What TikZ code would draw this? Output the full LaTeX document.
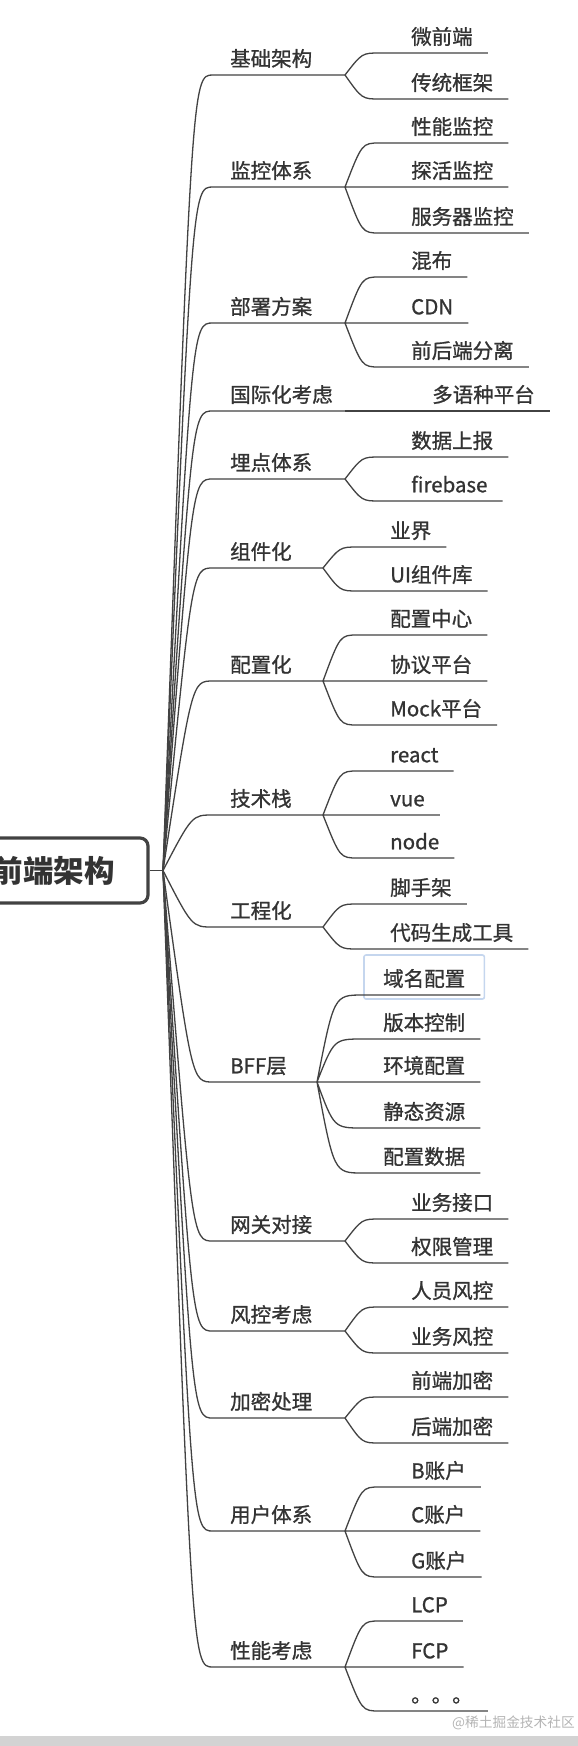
\documentclass[tikz,border=0pt]{standalone}
\usepackage{fontspec}
\setmainfont{Noto Sans CJK SC}
\newfontfamily\testofont{Noto Sans CJK SC}[FakeBold=1]
\usepackage{xcolor}
\usepackage{tikz}
\usetikzlibrary{calc}

\definecolor{linea}{HTML}{424242}
\definecolor{testo}{HTML}{333333}
\definecolor{evid}{HTML}{C5D6EE}
\definecolor{fondo}{HTML}{D3D3D3}
\definecolor{firma}{HTML}{B4B4B4}

\begin{document}
\begin{tikzpicture}[x=1pt, y=-1pt,
    voce/.style={anchor=south west, inner sep=0pt, text depth=8.5pt, text=testo, font=\testofont\fontsize{20.5}{24}\selectfont},
    radice/.style={draw=linea, line width=3.2pt, rounded corners=8pt, minimum width=188pt, minimum height=65pt, inner sep=0pt, text=testo, font=\fontsize{30.5}{32}\selectfont\bfseries},
    tratto/.style={draw=linea, line width=1.3pt},
    ramo/.style={to path={.. controls ($(\tikztotarget -| \tikztostart)+(29,0)$) .. ($(\tikztotarget -| \tikztostart)+(50,0)$) -- (\tikztotarget)}},
    foglia/.style={to path={.. controls ($(\tikztotarget.south west -| \tikztostart)+(17,0)$) .. ($(\tikztotarget.south west)+(-#1,0)$) -- ($(\tikztotarget.south east)+(15,0)$)}},
    foglia/.default=31,
    riquadro/.style={draw=evid, line width=1.6pt, rounded corners=2pt},
  ]
  \useasboundingbox (0,0) rectangle (578,1746);
  \fill[fondo] (0,1736) rectangle (578,1746);

  % Radice
  \node[radice] (radice) at (54,870.5) {前端架构};
  \coordinate (hub) at (163,870.5);
  \draw[tratto] (radice.east) -- (hub);

  % Rami
  \coordinate (j1) at (345,75);
  \coordinate (j2) at (345,187);
  \coordinate (j3) at (345,323);
  \coordinate (j4) at (345,411);
  \coordinate (j5) at (345,479);
  \coordinate (j6) at (323,568);
  \coordinate (j7) at (323,681);
  \coordinate (j8) at (323,815);
  \coordinate (j9) at (323,927);
  \coordinate (j10) at (317,1082);
  \coordinate (j11) at (345,1241);
  \coordinate (j12) at (345,1331);
  \coordinate (j13) at (345,1418);
  \coordinate (j14) at (345,1531);
  \coordinate (j15) at (345,1667);
  \foreach \i in {1,...,15}
    \draw[tratto] (hub) to[ramo] (j\i);

  \node[voce] (r1) at (230,75) {基础架构};
  \node[voce] (r2) at (230,187) {监控体系};
  \node[voce] (r3) at (230,323) {部署方案};
  \node[voce] (r4) at (230,411) {国际化考虑};
  \node[voce] (r5) at (230,479) {埋点体系};
  \node[voce] (r6) at (230,568) {组件化};
  \node[voce] (r7) at (230,681) {配置化};
  \node[voce] (r8) at (230,815) {技术栈};
  \node[voce] (r9) at (230,927) {工程化};
  \node[voce] (r10) at (230,1082) {BFF层};
  \node[voce] (r11) at (230,1241) {网关对接};
  \node[voce] (r12) at (230,1331) {风控考虑};
  \node[voce] (r13) at (230,1418) {加密处理};
  \node[voce] (r14) at (230,1531) {用户体系};
  \node[voce] (r15) at (230,1667) {性能考虑};

  % Foglie
  \node[voce] (f1a) at (411,53) {微前端};
  \node[voce] (f1b) at (411,99) {传统框架};
  \draw[tratto] (j1) to[foglia] (f1a) (j1) to[foglia] (f1b);

  \node[voce] (f2a) at (411,143) {性能监控};
  \node[voce] (f2b) at (411,187) {探活监控};
  \node[voce] (f2c) at (411,233) {服务器监控};
  \draw[tratto] (j2) to[foglia] (f2a) (j2) to[foglia] (f2b) (j2) to[foglia] (f2c);

  \node[voce] (f3a) at (411,277) {混布};
  \node[voce] (f3b) at (411,323) {CDN};
  \node[voce] (f3c) at (411,367) {前后端分离};
  \draw[tratto] (j3) to[foglia] (f3a) (j3) to[foglia] (f3b) (j3) to[foglia] (f3c);

  \node[voce] (f4a) at (432,411) {多语种平台};
  \draw[tratto] (j4) -- ($(f4a.south east)+(15,0)$);

  \node[voce] (f5a) at (411,457) {数据上报};
  \node[voce] (f5b) at (411,501) {firebase};
  \draw[tratto] (j5) to[foglia] (f5a) (j5) to[foglia] (f5b);

  \node[voce] (f6a) at (390,547) {业界};
  \node[voce] (f6b) at (390,591) {UI组件库};
  \draw[tratto] (j6) to[foglia=32] (f6a) (j6) to[foglia=32] (f6b);

  \node[voce] (f7a) at (390,635) {配置中心};
  \node[voce] (f7b) at (390,681) {协议平台};
  \node[voce] (f7c) at (390,725) {Mock平台};
  \draw[tratto] (j7) to[foglia=32] (f7a) (j7) to[foglia=32] (f7b) (j7) to[foglia=32] (f7c);

  \node[voce] (f8a) at (390,771) {react};
  \node[voce] (f8b) at (390,815) {vue};
  \node[voce] (f8c) at (390,858) {node};
  \draw[tratto] (j8) to[foglia=32] (f8a) (j8) to[foglia=32] (f8b) (j8) to[foglia=32] (f8c);

  \node[voce] (f9a) at (390,904) {脚手架};
  \node[voce] (f9b) at (390,949) {代码生成工具};
  \draw[tratto] (j9) to[foglia=32] (f9a) (j9) to[foglia=32] (f9b);

  \node[voce] (f10a) at (383,995) {域名配置};
  \node[voce] (f10b) at (383,1039) {版本控制};
  \node[voce] (f10c) at (383,1082) {环境配置};
  \node[voce] (f10d) at (383,1128) {静态资源};
  \node[voce] (f10e) at (383,1173) {配置数据};
  \draw[riquadro] ($(f10a.south west)+(-19,4)$) rectangle ($(f10a.south east)+(19,-40)$);
  \draw[tratto] (j10) to[foglia=20] (f10a) (j10) to[foglia=20] (f10b) (j10) to[foglia=20] (f10c)
    (j10) to[foglia=20] (f10d) (j10) to[foglia=20] (f10e);

  \node[voce] (f11a) at (411,1219) {业务接口};
  \node[voce] (f11b) at (411,1263) {权限管理};
  \draw[tratto] (j11) to[foglia] (f11a) (j11) to[foglia] (f11b);

  \node[voce] (f12a) at (411,1307) {人员风控};
  \node[voce] (f12b) at (411,1353) {业务风控};
  \draw[tratto] (j12) to[foglia] (f12a) (j12) to[foglia] (f12b);

  \node[voce] (f13a) at (411,1397) {前端加密};
  \node[voce] (f13b) at (411,1443) {后端加密};
  \draw[tratto] (j13) to[foglia] (f13a) (j13) to[foglia] (f13b);

  \node[voce] (f14a) at (411,1487) {B账户};
  \node[voce] (f14b) at (411,1531) {C账户};
  \node[voce] (f14c) at (411,1577) {G账户};
  \draw[tratto] (j14) to[foglia] (f14a) (j14) to[foglia] (f14b) (j14) to[foglia] (f14c);

  \node[voce] (f15a) at (411,1621) {LCP};
  \node[voce] (f15b) at (411,1667) {FCP};
  \node[voce] (f15c) at (411,1711) {。。。};
  \draw[tratto] (j15) to[foglia] (f15a) (j15) to[foglia] (f15b) (j15) to[foglia] (f15c);

  % Firma
  \node[anchor=base west, inner sep=0pt, text=firma, font=\fontsize{13.7}{15}\selectfont] (firma) at (452,1727) {@稀土掘金技术社区};
\end{tikzpicture}
\end{document}
